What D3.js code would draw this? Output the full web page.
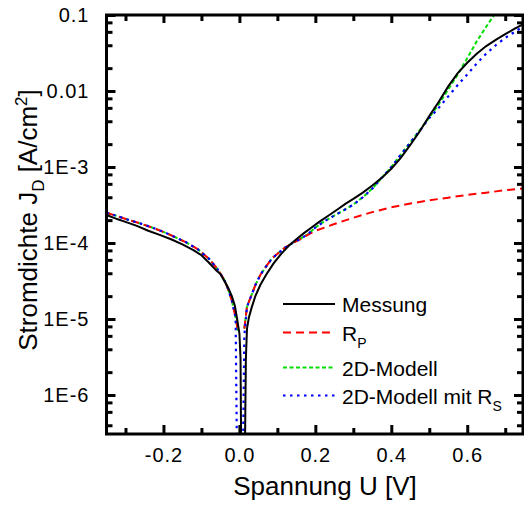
<!DOCTYPE html>
<html lang="de">
<head>
  <meta charset="utf-8">
  <script src="https://d3js.org/d3.v7.min.js"></script>
  <style>
    body { margin: 0; background: #fff; }
    svg { font-family: "Liberation Sans", Arial, sans-serif; }
  </style>
</head>
<body>
<svg width="524" height="507"></svg>
<script>
  // Messung (measured)
  var measU = [-0.35, -0.32, -0.30, -0.27, -0.24, -0.21, -0.18, -0.15, -0.12, -0.10, -0.08, -0.06, -0.05, -0.04, -0.03,
    -0.02, -0.012, -0.006, 0.0, 0.003, 0.005, 0.014, 0.017, 0.020, 0.025, 0.032, 0.042, 0.055, 0.07, 0.09, 0.11, 0.13,
    0.15, 0.17, 0.19, 0.21, 0.235, 0.26, 0.28, 0.30, 0.325, 0.35, 0.375, 0.40, 0.425, 0.45, 0.475, 0.50, 0.525, 0.55,
    0.575, 0.60, 0.625, 0.65, 0.675, 0.70, 0.725, 0.75];
  var measJ = [2.34e-4, 2.05e-4, 1.9e-4, 1.68e-4, 1.45e-4, 1.28e-4, 1.12e-4, 9.6e-5, 8.0e-5, 6.9e-5, 5.5e-5, 4.3e-5, 3.9e-5, 3.2e-5, 2.6e-5,
    2.0e-5, 1.5e-5, 1.0e-5, 6.5e-6, 3e-6, 1e-7, 1e-7, 3e-6, 7.5e-6, 1.05e-5, 1.4e-5, 2.0e-5, 2.8e-5, 3.8e-5, 5.4e-5, 7.2e-5, 9.2e-5,
    1.12e-4, 1.35e-4, 1.6e-4, 1.9e-4, 2.3e-4, 2.8e-4, 3.3e-4, 3.8e-4, 4.6e-4, 5.7e-4, 7.2e-4, 9.5e-4, 1.32e-3, 1.95e-3, 2.95e-3, 4.7e-3, 7.2e-3, 0.0115,
    0.0172, 0.0235, 0.031, 0.039, 0.047, 0.056, 0.066, 0.077];

  // R_P model (NaN = gap)
  var rpU = [-0.35, -0.32, -0.29, -0.26, -0.23, -0.20, -0.17, -0.14, -0.11, -0.08, -0.06, -0.04, -0.03, -0.02, -0.01, -0.004,
    0.004, 0.013, 0.02, 0.03, 0.042, 0.055, 0.07, 0.085, 0.10, 0.12, 0.14, 0.16, 0.18, 0.20, 0.225, 0.25, 0.30, 0.35, 0.40,
    0.45, 0.50, 0.55, 0.60, 0.65, 0.70, 0.75];
  var rpJ = [2.5e-4, 2.25e-4, 2.0e-4, 1.8e-4, 1.6e-4, 1.4e-4, 1.2e-4, 1.02e-4, 8.3e-5, 6.2e-5, 4.7e-5, 3.3e-5, 2.5e-5, 1.75e-5, 1.05e-5, 7e-6,
    NaN, 7.5e-6, 1.45e-5, 1.95e-5, 2.8e-5, 3.8e-5, 4.9e-5, 6.2e-5, 7.2e-5, 8.7e-5, 1.0e-4, 1.12e-4, 1.28e-4, 1.45e-4, 1.6e-4, 1.78e-4, 2.15e-4, 2.55e-4, 2.95e-4,
    3.3e-4, 3.65e-4, 3.95e-4, 4.3e-4, 4.6e-4, 4.95e-4, 5.25e-4];

  // 2D-Modell
  var modelU = [-0.35, -0.32, -0.29, -0.26, -0.23, -0.20, -0.17, -0.14, -0.11, -0.08, -0.06, -0.04, -0.03, -0.02, -0.01, -0.004,
    0.004, 0.013, 0.02, 0.03, 0.042, 0.055, 0.07, 0.085, 0.10, 0.12, 0.14, 0.16, 0.18, 0.20, 0.225, 0.25, 0.275, 0.30, 0.325,
    0.35, 0.375, 0.40, 0.425, 0.45, 0.475, 0.50, 0.525, 0.55, 0.575, 0.60, 0.625, 0.65, 0.675];
  var modelJ = [2.5e-4, 2.25e-4, 2.0e-4, 1.8e-4, 1.6e-4, 1.4e-4, 1.2e-4, 1.02e-4, 8.3e-5, 6.2e-5, 4.7e-5, 3.3e-5, 2.5e-5, 1.75e-5, 1.05e-5, 7e-6,
    NaN, 7.5e-6, 1.45e-5, 1.95e-5, 2.8e-5, 3.8e-5, 4.9e-5, 6.2e-5, 7.2e-5, 8.7e-5, 1.0e-4, 1.13e-4, 1.3e-4, 1.6e-4, 1.95e-4, 2.3e-4, 2.7e-4, 3.2e-4, 4.0e-4,
    5.2e-4, 7.2e-4, 1.0e-3, 1.45e-3, 2.1e-3, 3.05e-3, 4.5e-3, 6.7e-3, 0.0105, 0.0165, 0.027, 0.045, 0.07, 0.108];

  // 2D-Modell mit R_S
  var modelRsU = [-0.35, -0.32, -0.29, -0.26, -0.23, -0.20, -0.17, -0.14, -0.11, -0.08, -0.06, -0.04, -0.03, -0.02, -0.01, -0.006,
    0.009, 0.013, 0.02, 0.03, 0.042, 0.055, 0.07, 0.085, 0.10, 0.12, 0.14, 0.16, 0.18, 0.20, 0.225, 0.25, 0.275, 0.30, 0.325,
    0.35, 0.375, 0.40, 0.425, 0.45, 0.475, 0.50, 0.525, 0.55, 0.575, 0.60, 0.625, 0.65, 0.675, 0.70, 0.725, 0.75];
  var modelRsJ = [2.5e-4, 2.25e-4, 2.0e-4, 1.8e-4, 1.6e-4, 1.4e-4, 1.2e-4, 1.02e-4, 8.3e-5, 6.2e-5, 4.7e-5, 3.3e-5, 2.5e-5, 1.75e-5, 1.05e-5, 1e-7,
    1e-7, 6e-6, 1.45e-5, 1.95e-5, 2.8e-5, 3.8e-5, 4.9e-5, 6.2e-5, 7.2e-5, 8.7e-5, 1.0e-4, 1.13e-4, 1.3e-4, 1.6e-4, 1.95e-4, 2.3e-4, 2.7e-4, 3.2e-4, 4.0e-4,
    5.2e-4, 7.2e-4, 1.0e-3, 1.45e-3, 2.1e-3, 3.0e-3, 4.4e-3, 6.0e-3, 8.5e-3, 0.012, 0.0165, 0.023, 0.031, 0.04, 0.05, 0.06, 0.072];

  var xMajor = [-0.2, 0.0, 0.2, 0.4, 0.6];
  var xMinor = [-0.3, -0.1, 0.1, 0.3, 0.5, 0.7];
  var yMajor = [0.1, 0.01, 1e-3, 1e-4, 1e-5, 1e-6];
  var yLabels = ["0.1", "0.01", "1E-3", "1E-4", "1E-5", "1E-6"];

  var svg = d3.select("svg");
  var pLeft = 106.5, pRight = 523, pTop = 15, pBottom = 434;

  var x = d3.scaleLinear().domain([-0.35, 0.75]).range([pLeft, pRight + 1.2]);
  var y = d3.scaleLog().domain([3.07e-7, 0.1]).range([pBottom, pTop]);

  // minor y ticks at 2,4,6,8 per decade
  var yMinor = [];
  [1e-7, 1e-6, 1e-5, 1e-4, 1e-3, 1e-2].forEach(function(d) {
    [2, 4, 6, 8].forEach(function(m) {
      var v = d * m;
      if (v > 3.07e-7 && v < 0.1) yMinor.push(v);
    });
  });

  svg.append("clipPath").attr("id", "clip")
    .append("rect").attr("x", pLeft).attr("y", pTop).attr("width", pRight - pLeft).attr("height", pBottom - pTop);

  var line = d3.line()
    .defined(function(d) { return !isNaN(d[1]); })
    .x(function(d) { return x(d[0]); })
    .y(function(d) { return y(d[1]); });

  function pairs(u, j) { return u.map(function(v, i) { return [v, j[i]]; }); }

  var series = [
    {data: pairs(modelU, modelJ), color: "#00dd00", dash: "4,2.5", w: 2},
    {data: pairs(rpU, rpJ), color: "#ff0000", dash: "8,5", w: 2},
    {data: pairs(modelRsU, modelRsJ), color: "#0000ff", dash: "2.5,4.5", w: 2.2},
    {data: pairs(measU, measJ), color: "#000", dash: null, w: 2}
  ];

  var plot = svg.append("g").attr("clip-path", "url(#clip)");
  series.forEach(function(s) {
    plot.append("path")
      .attr("d", line(s.data))
      .attr("fill", "none")
      .attr("stroke", s.color)
      .attr("stroke-width", s.w)
      .attr("stroke-dasharray", s.dash);
  });

  // axes
  function styleAxis(g) {
    g.select(".domain").remove();
    g.selectAll(".tick line").attr("stroke", "#000").attr("stroke-width", 3);
    g.selectAll(".tick text").attr("fill", "#000").style("font-size", "20px")
      .style("font-family", "'Liberation Sans', Arial, sans-serif");
  }

  var fmtX = function(d) { return d3.format(".1f")(d).replace("\u2212", "-"); };

  svg.append("g").attr("transform", "translate(0," + pBottom + ")")
    .call(d3.axisBottom(x).tickValues(xMajor).tickSize(-9).tickPadding(14).tickFormat(fmtX))
    .call(styleAxis)
    .selectAll(".tick text").attr("letter-spacing", "1px");
  svg.append("g").attr("transform", "translate(0," + pBottom + ")")
    .call(d3.axisBottom(x).tickValues(xMinor).tickSize(-6).tickFormat(""))
    .call(styleAxis);
  svg.append("g").attr("transform", "translate(0," + pTop + ")")
    .call(d3.axisTop(x).tickValues(xMajor).tickSize(-8).tickFormat(""))
    .call(styleAxis);
  svg.append("g").attr("transform", "translate(0," + pTop + ")")
    .call(d3.axisTop(x).tickValues(xMinor).tickSize(-6).tickFormat(""))
    .call(styleAxis);

  svg.append("g").attr("transform", "translate(" + pLeft + ",0)")
    .call(d3.axisLeft(y).tickValues(yMajor).tickSize(-9).tickPadding(17)
      .tickFormat(function(d, i) { return yLabels[i]; }))
    .call(styleAxis)
    .selectAll(".tick text").attr("letter-spacing", "1px");
  svg.append("g").attr("transform", "translate(" + pLeft + ",0)")
    .call(d3.axisLeft(y).tickValues(yMinor).tickSize(-6).tickFormat(""))
    .call(styleAxis);
  svg.append("g").attr("transform", "translate(" + pRight + ",0)")
    .call(d3.axisRight(y).tickValues(yMajor).tickSize(-9).tickFormat(""))
    .call(styleAxis);
  svg.append("g").attr("transform", "translate(" + pRight + ",0)")
    .call(d3.axisRight(y).tickValues(yMinor).tickSize(-6).tickFormat(""))
    .call(styleAxis);

  // frame
  svg.append("rect")
    .attr("x", pLeft).attr("y", pTop)
    .attr("width", pRight - pLeft).attr("height", pBottom - pTop)
    .attr("fill", "none").attr("stroke", "#000").attr("stroke-width", 3);

  // axis titles
  svg.append("text")
    .attr("x", 325).attr("y", 495)
    .attr("text-anchor", "middle")
    .style("font-size", "26px")
    .text("Spannung U [V]");

  var yt = svg.append("text")
    .attr("transform", "translate(37,220) rotate(-90)")
    .attr("text-anchor", "middle")
    .style("font-size", "26px");
  yt.append("tspan").text("Stromdichte J");
  yt.append("tspan").attr("dy", 7).style("font-size", "17px").text("D");
  yt.append("tspan").attr("dy", -7).text(" [A/cm");
  yt.append("tspan").attr("dy", -10).style("font-size", "17px").text("2");
  yt.append("tspan").attr("dy", 10).text("]");

  // legend
  var legendNames = ["Messung", "R", "2D-Modell", "2D-Modell mit R"];
  var legendSubs = ["", "P", "", "S"];
  var legendY = [304, 332.5, 367.5, 395.5];
  var legendStyle = [series[3], series[1], series[0], series[2]];

  legendNames.forEach(function(name, i) {
    var s = legendStyle[i];
    svg.append("line")
      .attr("x1", 283).attr("x2", 335)
      .attr("y1", legendY[i]).attr("y2", legendY[i])
      .attr("stroke", s.color).attr("stroke-width", s.w)
      .attr("stroke-dasharray", s.dash);
    var t = svg.append("text")
      .attr("x", 342).attr("y", legendY[i] + 8)
      .style("font-size", "21px");
    t.append("tspan").text(name);
    if (legendSubs[i]) {
      t.append("tspan").attr("dy", 7).style("font-size", "14px").text(legendSubs[i]);
    }
  });
</script>
</body>
</html>
